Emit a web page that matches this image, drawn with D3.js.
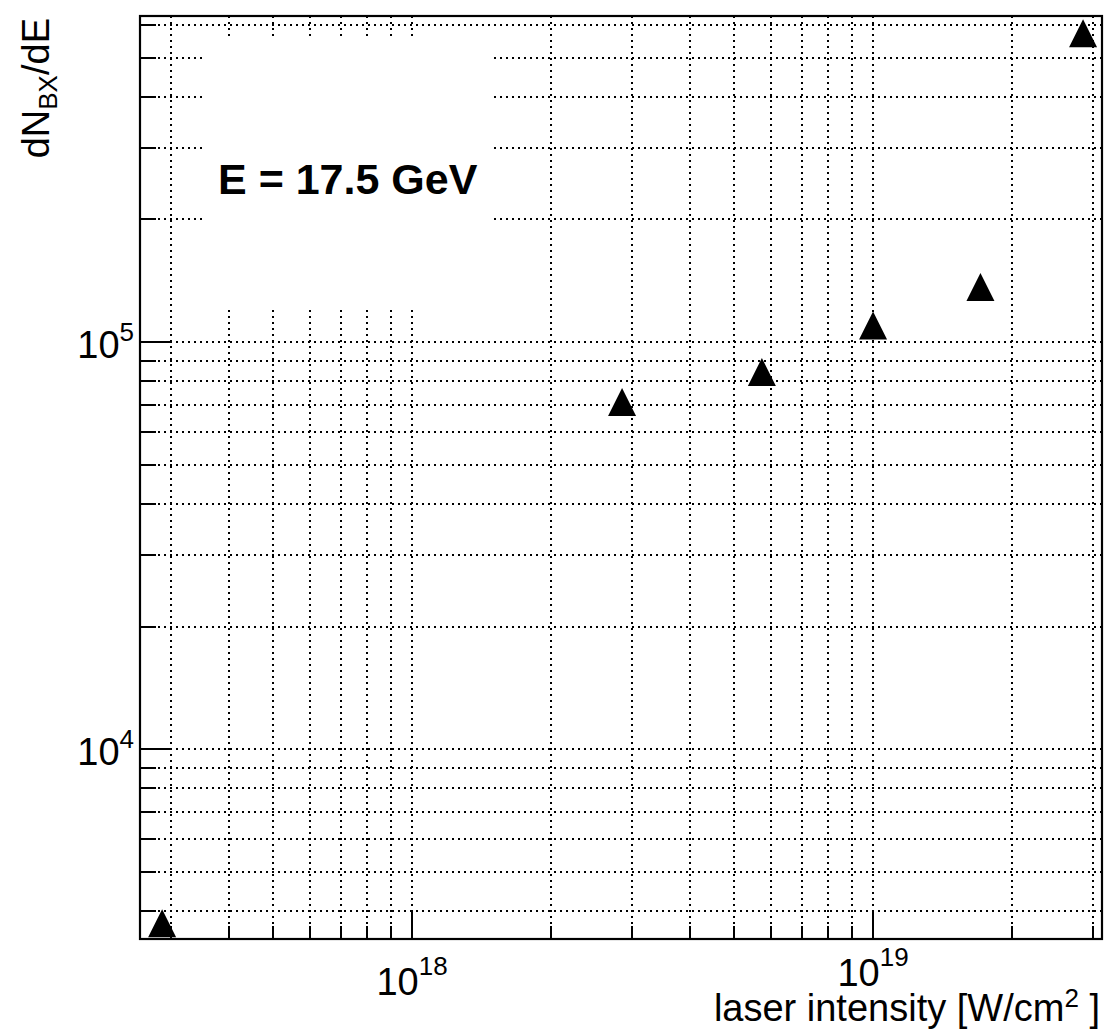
<!DOCTYPE html>
<html>
<head>
<meta charset="utf-8">
<script src="https://cdn.jsdelivr.net/npm/d3@7"></script>
<style>
  body { margin: 0; background: #fff; }
  svg { display: block; font-family: "Liberation Sans", Arial, sans-serif; }
</style>
</head>
<body>
<div id="chart"></div>
<script>
// laser intensity [W/cm^2] vs dN_BX/dE at E = 17.5 GeV
const intensity = [2.87e17, 2.855e18, 5.74e18, 1.0e19, 1.71e19, 2.855e19];
const dNdE = [3730, 71200, 84400, 109800, 136500, 574000];

const xDomain = [2.57e17, 3.138e19];
const yDomain = [3414, 6.324e5];
const xMajor = [1e18, 1e19];
const yMajor = [1e4, 1e5];
const xExp = ['18', '19'];
const yExp = ['4', '5'];

function renderChart(containerId) {
  const container = document.getElementById(containerId);
  const width = 1107, height = 1031;
  const frame = { left: 140, right: 1102, top: 16, bottom: 939 };

  const svg = d3.select(container).append('svg')
    .attr('width', width)
    .attr('height', height);

  svg.append('rect').attr('width', width).attr('height', height).attr('fill', '#fff');

  const x = d3.scaleLog().domain(xDomain).range([frame.left, frame.right]);
  const y = d3.scaleLog().domain(yDomain).range([frame.bottom, frame.top]);

  // all decade ticks (1..9 x 10^n) inside the domain
  const logTicks = (dom) => {
    const out = [];
    for (let e = Math.floor(Math.log10(dom[0])); e <= Math.ceil(Math.log10(dom[1])); e++) {
      for (let m = 1; m < 10; m++) {
        const v = m * Math.pow(10, e);
        if (v >= dom[0] && v <= dom[1]) out.push(v);
      }
    }
    return out;
  };
  const xTicks = logTicks(xDomain);
  const yTicks = logTicks(yDomain);

  // dotted grid
  const grid = svg.append('g')
    .attr('stroke', '#000')
    .attr('stroke-width', 2)
    .attr('stroke-dasharray', '2 4')
    .attr('shape-rendering', 'crispEdges');
  grid.selectAll('.vg').data(xTicks).enter().append('line')
    .attr('x1', d => Math.round(x(d))).attr('x2', d => Math.round(x(d)))
    .attr('y1', frame.top).attr('y2', frame.bottom);
  grid.selectAll('.hg').data(yTicks).enter().append('line')
    .attr('y1', d => Math.round(y(d))).attr('y2', d => Math.round(y(d)))
    .attr('x1', frame.left).attr('x2', frame.right);

  // white label box covering the grid
  svg.append('rect')
    .attr('x', 203).attr('y', 37)
    .attr('width', 287).attr('height', 273)
    .attr('fill', '#fff');
  svg.append('text')
    .attr('x', 218).attr('y', 194)
    .style('font-size', '43px')
    .style('font-weight', 'bold')
    .text('E = 17.5 GeV');

  // axis ticks (left and bottom only)
  const isMajor = (v) => Math.abs(Math.log10(v) - Math.round(Math.log10(v))) < 1e-9;
  const ticks = svg.append('g').attr('stroke', '#000').attr('stroke-width', 2);
  ticks.selectAll('.xt').data(xTicks).enter().append('line')
    .attr('x1', d => Math.round(x(d))).attr('x2', d => Math.round(x(d)))
    .attr('y1', frame.bottom)
    .attr('y2', d => frame.bottom - (isMajor(d) ? 29 : 13));
  ticks.selectAll('.yt').data(yTicks).enter().append('line')
    .attr('y1', d => Math.round(y(d))).attr('y2', d => Math.round(y(d)))
    .attr('x1', frame.left)
    .attr('x2', d => frame.left + (isMajor(d) ? 30 : 16));

  // frame
  svg.append('rect')
    .attr('x', frame.left).attr('y', frame.top)
    .attr('width', frame.right - frame.left)
    .attr('height', frame.bottom - frame.top)
    .attr('fill', 'none')
    .attr('stroke', '#000')
    .attr('stroke-width', 2.2);

  // tick labels (the last one sits a little higher, clear of the axis title)
  xMajor.forEach((v, i) => {
    const t = svg.append('text')
      .attr('x', x(v)).attr('y', i === xMajor.length - 1 ? 986 : 995)
      .attr('text-anchor', 'middle')
      .style('font-size', '38px');
    t.append('tspan').text('10');
    t.append('tspan').attr('dy', -20).style('font-size', '26px').text(xExp[i]);
  });
  yMajor.forEach((v, i) => {
    const t = svg.append('text')
      .attr('x', 134).attr('y', y(v) + 16)
      .attr('text-anchor', 'end')
      .style('font-size', '38px');
    t.append('tspan').text('10');
    t.append('tspan').attr('dy', -17).style('font-size', '26px').text(yExp[i]);
  });

  // axis titles
  const xt = svg.append('text')
    .attr('x', 1100).attr('y', 1021)
    .attr('text-anchor', 'end')
    .style('font-size', '38px');
  xt.append('tspan').text('laser intensity [W/cm');
  xt.append('tspan').attr('dy', -14).style('font-size', '26px').text('2');
  xt.append('tspan').attr('dy', 14).text(' ]');

  const yt = svg.append('text')
    .attr('transform', 'translate(49, 18) rotate(-90)')
    .attr('text-anchor', 'end')
    .style('font-size', '38px');
  yt.append('tspan').text('dN');
  yt.append('tspan').attr('dy', 8).style('font-size', '26px').text('BX');
  yt.append('tspan').attr('dy', -8).text('/dE');

  // markers: filled up-triangles
  const tri = 'M0,-14L14,14L-14,14Z';
  svg.selectAll('.pt')
    .data(intensity.map((v, i) => [v, dNdE[i]]))
    .enter().append('path')
    .attr('class', 'pt')
    .attr('d', tri)
    .attr('transform', d => `translate(${x(d[0])},${y(d[1])})`)
    .attr('fill', '#000');
}

renderChart('chart');
</script>
</body>
</html>
